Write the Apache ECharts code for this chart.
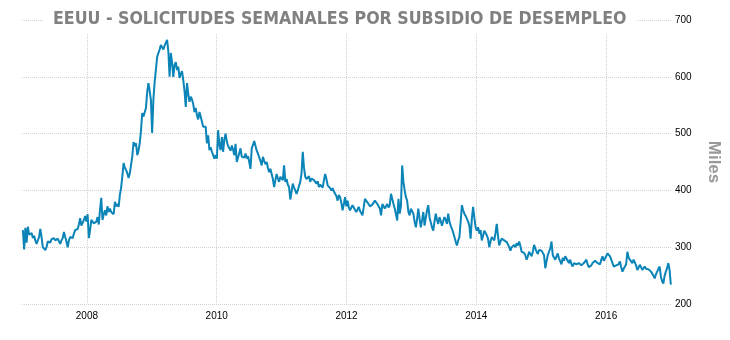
<!DOCTYPE html>
<html>
<head>
<meta charset="utf-8">
<script src="https://cdn.jsdelivr.net/npm/echarts@6/dist/echarts.min.js"></script>
<style>
html,body{margin:0;padding:0;background:#fff;}
#chart{width:730px;height:340px;}
</style>
</head>
<body>
<div id="chart"></div>
<script>
// Weekly initial jobless claims (thousands), week ending Saturdays, from 2007-01-06
const y2007 = [330,296,334,308,336,322,320,325,316,320,312,306,304,318,332,318,300,298,295,300,310,312,308,314,311,316,312,309,315,310,306,312,316,327,318,310,300,312,318,321,316,324,330,328,332,340,351,338,336,348,355,345];
const y2008 = [358,316,330,348,350,342,339,345,353,340,366,387,348,358,365,356,372,362,368,362,362,358,380,372,376,371,392,405,425,448,440,436,430,422,430,445,460,485,478,483,462,470,483,505,536,530,527,545,573,589,575,559];
const y2009 = [501,560,591,612,635,638,648,656,659,648,655,652,665,645,600,642,625,600,621,626,612,618,598,605,610,594,575,547,589,570,556,565,560,552,538,545,532,525,538,530,521,512,515,512,483,497,471,476,468,462,456,462];
const y2010 = [456,506,480,471,494,468,490,500,486,478,474,470,479,472,462,482,450,458,466,474,459,462,458,465,456,460,450,438,474,480,487,484,470,465,458,452,444,459,452,446,450,440,432,438,435,420,406,418,429,421,415,424];
const y2011 = [426,418,444,415,420,410,406,384,398,412,405,400,394,400,408,415,430,468,440,424,420,418,425,415,421,424,418,421,412,416,406,410,412,405,418,429,420,409,412,404,400,404,398,397,390,382,392,388,378,365,376,388,372];
const y2012 = [382,370,365,368,374,370,366,362,366,371,364,360,356,370,385,382,379,376,372,371,375,378,382,380,376,379,368,356,376,372,368,371,376,370,374,394,385,376,368,358,347,385,359,372,444,415,400,388,382,362,356,368];
const y2013 = [368,359,345,335,350,368,350,335,348,362,338,352,365,374,352,344,335,329,345,359,348,341,353,346,338,346,353,348,341,359,345,338,332,326,318,310,303,312,318,345,374,365,359,355,353,345,338,315,350,371,352,335];
const y2014 = [329,335,324,330,312,320,329,325,321,315,300,310,318,315,312,325,341,320,303,310,315,312,312,315,309,305,300,294,300,302,304,300,307,303,310,302,292,295,290,286,278,284,292,288,284,292,304,298,292,288,295,298];
const y2015 = [294,290,286,263,275,286,292,298,310,286,282,278,284,289,280,275,270,281,276,284,280,276,272,278,270,266,272,275,270,268,272,270,268,266,272,275,278,270,265,263,268,272,270,276,278,272,275,270,278,284,276,280];
const y2016 = [282,289,286,284,278,272,266,263,268,266,270,275,265,257,262,260,270,292,282,278,275,272,278,281,268,260,264,269,265,260,263,266,262,263,261,260,257,254,250,245,252,257,262,266,248,240,236,250,257,263,272,260,234];

const yearTicks = [2008, 2010, 2012, 2014, 2016];
const firstWeek = '2007-01-06';

const values = [].concat(y2007, y2008, y2009, y2010, y2011, y2012, y2013, y2014, y2015, y2016);

function decimalYear(ms) {
  const d = new Date(ms);
  const y = d.getUTCFullYear();
  const s = Date.UTC(y, 0, 1), e = Date.UTC(y + 1, 0, 1);
  return y + (ms - s) / (e - s);
}
const startMs = Date.parse(firstWeek + 'T00:00:00Z');
const seriesData = values.map((v, i) => [decimalYear(startMs + i * 7 * 86400000), v]);

const TITLE = 'EEUU - SOLICITUDES SEMANALES POR SUBSIDIO DE DESEMPLEO';
const titleFamily = '"Liberation Sans Narrow", "DejaVu Sans Condensed", Arial, sans-serif';
const cv = document.createElement('canvas').getContext('2d');
cv.font = 'bold 20px ' + titleFamily;
const w20 = cv.measureText(TITLE).width;
const titleSize = Math.min(26, 20 * 574 / w20);

const chart = echarts.init(document.getElementById('chart'), null, {renderer: 'canvas'});
chart.setOption({
  animation: false,
  backgroundColor: '#fff',
  title: {
    text: TITLE,
    left: 43,
    top: 0,
    padding: [8, 10, 4, 10],
    backgroundColor: '#fff',
    textStyle: {
      fontFamily: titleFamily,
      fontWeight: 'bold',
      fontSize: titleSize,
      lineHeight: 22,
      color: '#808080'
    }
  },
  grid: {left: 22, right: 55, top: 20, bottom: 36, containLabel: false},
  xAxis: {
    type: 'value',
    min: 2007,
    max: 2017,
    interval: 1,
    axisLine: {show: false},
    axisTick: {show: false},
    axisLabel: {
      margin: 7,
      fontSize: 10,
      color: '#000',
      fontFamily: 'Arial, "Liberation Sans", sans-serif',
      formatter: v => (yearTicks.indexOf(v) >= 0 ? String(v) : '')
    },
    splitLine: {
      show: true,
      lineStyle: {type: 'dotted', width: 1, color: ['rgba(0,0,0,0)', '#d2d2d2']}
    }
  },
  yAxis: {
    type: 'value',
    position: 'right',
    min: 200,
    max: 700,
    interval: 100,
    axisLine: {show: false},
    axisTick: {show: false},
    axisLabel: {
      margin: 4,
      fontSize: 10,
      color: '#000',
      fontFamily: 'Arial, "Liberation Sans", sans-serif'
    },
    splitLine: {show: true, lineStyle: {type: 'dotted', width: 1, color: '#d2d2d2'}},
    name: 'Miles',
    nameLocation: 'middle',
    nameRotate: -90,
    nameGap: 34,
    nameTextStyle: {fontSize: 17, fontWeight: 'bold', color: '#999', fontFamily: 'Arial, "Liberation Sans", sans-serif'}
  },
  series: [{
    type: 'line',
    data: seriesData,
    showSymbol: false,
    symbol: 'none',
    lineStyle: {width: 2, color: '#0b84b8'},
    itemStyle: {color: '#0b84b8'}
  }]
});
</script>
</body>
</html>
